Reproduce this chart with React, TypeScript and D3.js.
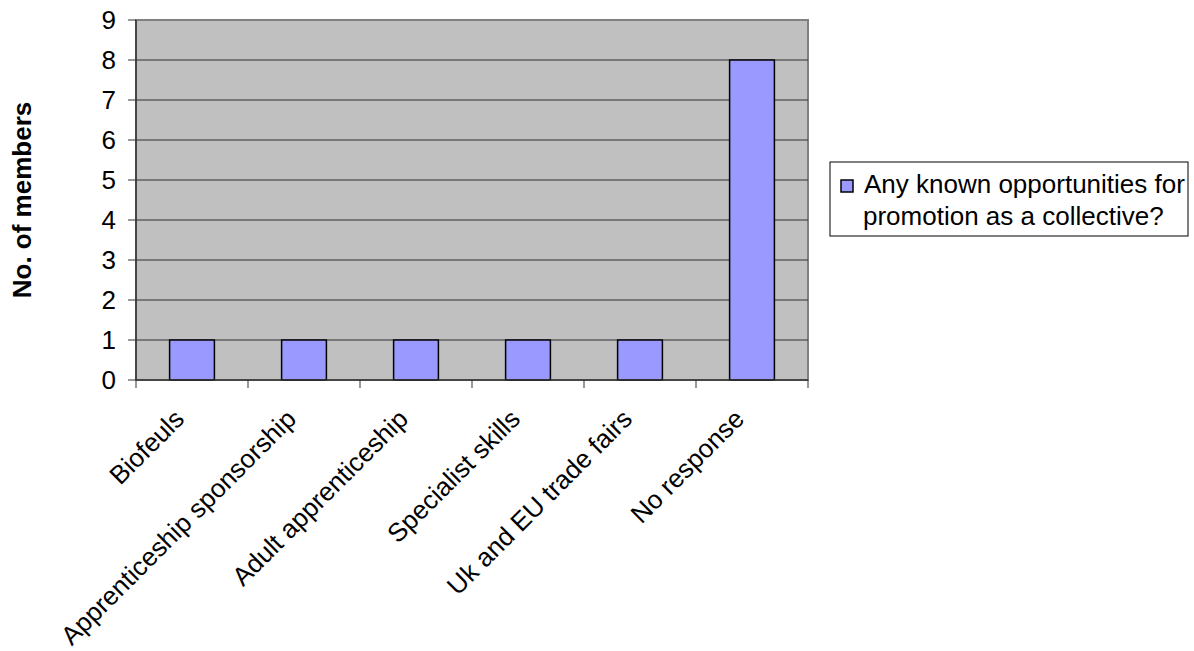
import React from "react";
import * as d3 from "d3";

const categories = [
  "Biofeuls",
  "Apprenticeship sponsorship",
  "Adult apprenticeship",
  "Specialist skills",
  "Uk and EU trade fairs",
  "No response",
];
const values = [1, 1, 1, 1, 1, 8];
const yTicks = [0, 1, 2, 3, 4, 5, 6, 7, 8, 9];
const seriesName = ["Any known opportunities for", "promotion as a collective?"];
const yTitle = "No. of members";

const W = 1194;
const H = 651;
const plot = { left: 136, top: 20, right: 808, bottom: 380 };
const FONT = "'Liberation Sans', Arial, sans-serif";
const FS = 26;

export default function App() {
  const x = d3
    .scaleBand<string>()
    .domain(categories)
    .range([plot.left, plot.right])
    .paddingInner(0.6)
    .paddingOuter(0.3);
  const xOuter = d3.scaleBand<string>().domain(categories).range([plot.left, plot.right]);
  const y = d3.scaleLinear().domain([0, 9]).range([plot.bottom, plot.top]);

  const boundaries = d3.range(categories.length + 1).map((i) => plot.left + i * xOuter.step());

  return (
    <svg
      width={W}
      height={H}
      style={{ position: "absolute", left: 0, top: 0, background: "#fff" }}
      fontFamily={FONT}
    >
      <rect x={plot.left} y={plot.top} width={plot.right - plot.left} height={plot.bottom - plot.top} fill="#c0c0c0" stroke="#808080" strokeWidth={2} />
      {yTicks.slice(1, -1).map((t) => (
        <line key={t} x1={plot.left} x2={plot.right} y1={y(t)} y2={y(t)} stroke="#333" strokeWidth={1} />
      ))}
      {categories.map((c, i) => (
        <rect
          key={c}
          x={x(c)!}
          y={y(values[i])}
          width={x.bandwidth()}
          height={y(0) - y(values[i])}
          fill="#9999ff"
          stroke="#000"
          strokeWidth={1.5}
        />
      ))}
      {/* axes */}
      <line x1={plot.left} x2={plot.left} y1={plot.top} y2={plot.bottom} stroke="#333" strokeWidth={1.5} />
      <line x1={plot.left} x2={plot.right} y1={plot.bottom} y2={plot.bottom} stroke="#333" strokeWidth={1.5} />
      {yTicks.map((t) => (
        <g key={t}>
          <line x1={plot.left - 8} x2={plot.left} y1={y(t)} y2={y(t)} stroke="#333" strokeWidth={1} />
          <text x={plot.left - 20} y={y(t)} dy="0.36em" textAnchor="end" fontSize={FS} fill="#000">
            {t}
          </text>
        </g>
      ))}
      {boundaries.map((b, i) => (
        <line key={i} x1={b} x2={b} y1={plot.bottom} y2={plot.bottom + 8} stroke="#333" strokeWidth={1} />
      ))}
      {categories.map((c) => {
        const cx = xOuter(c)! + xOuter.bandwidth() / 2;
        const cy = plot.bottom + 34;
        return (
          <text
            key={c}
            transform={`translate(${cx - 13},${cy}) rotate(-45)`}
            textAnchor="end"
            dy="0.36em"
            fontSize={FS}
            fill="#000"
          >
            {c}
          </text>
        );
      })}
      <text
        transform={`translate(31,${(plot.top + plot.bottom) / 2}) rotate(-90)`}
        textAnchor="middle"
        fontSize={FS}
        fontWeight="bold"
        fill="#000"
      >
        {yTitle}
      </text>
      {/* legend */}
      <rect x={830} y={162} width={358} height={74} fill="#fff" stroke="#000" strokeWidth={1} />
      <rect x={841} y={180} width={12} height={12} fill="#9999ff" stroke="#000" strokeWidth={1.5} />
      <text fontSize={FS} fill="#000">
        <tspan x={864} y={193}>{seriesName[0]}</tspan>
        <tspan x={863} y={225}>{seriesName[1]}</tspan>
      </text>
    </svg>
  );
}
